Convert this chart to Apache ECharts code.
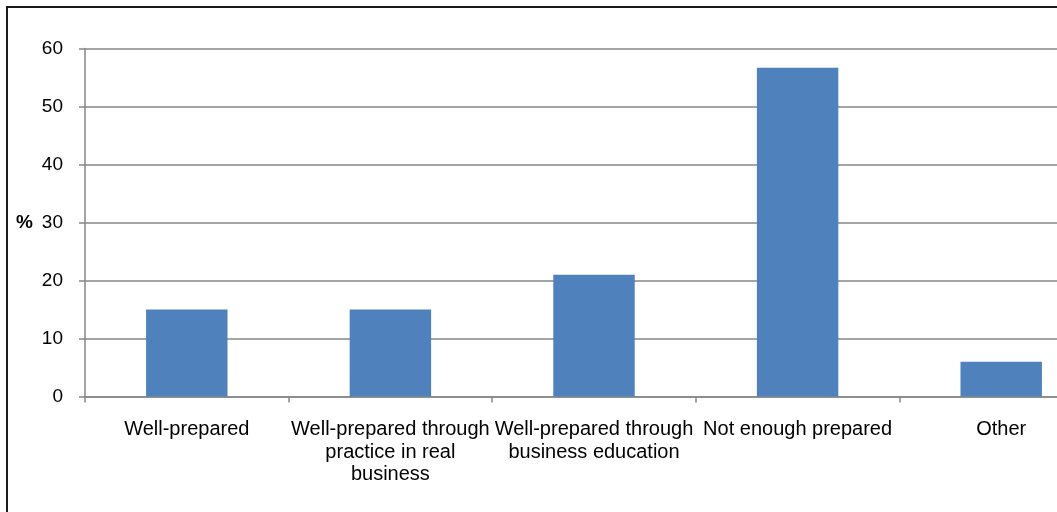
<!DOCTYPE html>
<html>
<head>
<meta charset="utf-8">
<script src="https://cdn.jsdelivr.net/npm/echarts@6/dist/echarts.min.js"></script>
<style>
  html, body { margin: 0; padding: 0; background: #fff; overflow: hidden; }
  /* the plot runs past the right edge of the window */
  #chart { width: 1103px; height: 512px; }
</style>
</head>
<body>
<div id="chart"></div>
<script>
// Survey responses: how prepared respondents felt
const categories = [
  'Well-prepared',
  'Well-prepared through\npractice in real\nbusiness',
  'Well-prepared through\nbusiness education',
  'Not enough prepared',
  'Other'
];
const shares = [15, 15, 21, 56.7, 6];
const yTicks = { min: 0, max: 60, step: 10 };
const yUnit = '%';

const font = 'Liberation Sans, Arial, sans-serif';
const axisGrey = '#868686';

const chart = echarts.init(document.getElementById('chart'), null, { renderer: 'canvas' });
chart.setOption({
  backgroundColor: '#fff',
  animation: false,
  grid: { left: 85, top: 48.5, right: 0, height: 348, containLabel: false },
  xAxis: {
    type: 'category',
    data: categories,
    axisLine: { show: true, lineStyle: { color: axisGrey, width: 1.5 } },
    axisTick: { show: true, length: 6, lineStyle: { color: axisGrey, width: 1.5 } },
    axisLabel: {
      interval: 0,
      margin: 22,
      color: '#000',
      fontFamily: font,
      fontSize: 20,
      lineHeight: 22.5,
      align: 'center'
    },
    splitLine: { show: false }
  },
  yAxis: {
    type: 'value',
    min: yTicks.min,
    max: yTicks.max,
    interval: yTicks.step,
    axisLine: { show: true, lineStyle: { color: axisGrey, width: 1.5 } },
    axisTick: { show: true, length: 6, lineStyle: { color: axisGrey, width: 1.5 } },
    axisLabel: { margin: 22, color: '#000', fontFamily: font, fontSize: 19 },
    splitLine: { show: true, lineStyle: { color: axisGrey, width: 1.5 } }
  },
  series: [{
    type: 'bar',
    data: shares,
    barWidth: '40%',
    itemStyle: { color: '#4F81BD' }
  }],
  graphic: [
    {
      type: 'rect',
      shape: { x: 7, y: 7, width: 1200, height: 600 },
      style: { fill: 'none', stroke: '#1a1a1a', lineWidth: 2 },
      silent: true
    },
    {
      type: 'text',
      left: 16,
      top: 213,
      style: { text: yUnit, font: 'bold 19px ' + font, fill: '#000' }
    }
  ]
});
</script>
</body>
</html>
